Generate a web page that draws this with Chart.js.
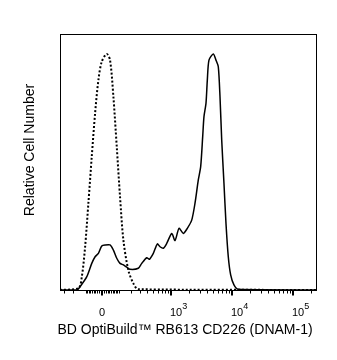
<!DOCTYPE html>
<html>
<head>
<meta charset="utf-8">
<script src="https://cdn.jsdelivr.net/npm/chart.js@4.4.1/dist/chart.umd.min.js"></script>
<style>
  body { margin: 0; background: #fff; }
  #wrap { width: 337px; height: 360px; }
</style>
</head>
<body>
<div id="wrap"><canvas id="histo"></canvas></div>
<script>
// x in display units (decades: 10^3 -> 3), y in % of max
const stainedX = [1.18, 1.46, 1.51, 1.62, 1.701, 1.756, 1.81, 1.865, 1.92, 2.001, 2.056, 2.111, 2.165, 2.22, 2.275, 2.329, 2.465, 2.521, 2.603, 2.646, 2.711, 2.777, 2.821, 2.875, 2.931, 3.013, 3.067, 3.133, 3.203, 3.269, 3.341, 3.395, 3.449, 3.488, 3.521, 3.542, 3.575, 3.597, 3.624, 3.695, 3.739, 3.777, 3.805, 3.833, 3.87, 3.903, 3.941, 3.98, 4.034, 4.105, 5.38];
const stainedY = [0, 0, 1.3, 5.2, 10.4, 13.0, 14.3, 17.2, 17.6, 17.6, 15.6, 12.4, 10.4, 9.8, 8.9, 8.1, 8.5, 10.4, 12.6, 12.0, 14.3, 18.0, 16.9, 16.3, 18.2, 22.1, 19.3, 24.1, 22.1, 24.1, 27.3, 33.9, 43.0, 48.2, 59.9, 67.7, 72.9, 82.0, 89.8, 92.2, 89.8, 87.2, 75.5, 58.6, 41.7, 26.1, 13.0, 5.9, 2.0, 0.3, 0];

const isotypeX = [1.18, 1.482, 1.538, 1.592, 1.646, 1.701, 1.756, 1.81, 1.865, 1.947, 2.001, 2.056, 2.111, 2.165, 2.22, 2.301, 2.383, 2.465, 5.38];
const isotypeY = [0, 0.7, 5.2, 16.9, 34.0, 52.1, 69.1, 82.0, 89.2, 92.2, 89.8, 75.5, 56.0, 36.4, 19.5, 7.8, 2.6, 0.3, 0];

// axis ticks in fluorescence units
const majorTicks = [0, 1000, 10000, 100000];
const majorLabels = ['0', '10', '10', '10'];
const majorExps = ['', '3', '4', '5'];
const minorTicks = [-300, -200, -100, -90, -80, -70, -60, -50, -40, -30, -20, -10,
  10, 20, 30, 40, 50, 60, 70, 80, 90, 100, 200, 300, 400, 500, 600, 700, 800, 900,
  2000, 3000, 4000, 5000, 6000, 7000, 8000, 9000,
  20000, 30000, 40000, 50000, 60000, 70000, 80000, 90000, 200000];

// biexponential-ish transform to display units
function disp(v) {
    return 1.874 + Math.asinh(v / 150.6) / Math.LN10;
}

function toPoints(xs, ys) {
    return xs.map((x, i) => ({ x: x, y: ys[i] }));
}

const FONT = '"Liberation Sans", Arial, sans-serif';

const axisDecor = {
    id: 'axisDecor',
    afterDraw(chart) {
        const ctx = chart.ctx;
        const a = chart.chartArea;
        const x = chart.scales.x;
        ctx.save();
        ctx.strokeStyle = '#000';
        ctx.lineWidth = 1;
        ctx.strokeRect(a.left + 0.5, a.top + 0.5, a.right - a.left, a.bottom - a.top);

        // minor ticks
        minorTicks.forEach(v => {
            const px = Math.round(x.getPixelForValue(disp(v))) + 0.5;
            ctx.beginPath();
            ctx.moveTo(px, a.bottom);
            ctx.lineTo(px, a.bottom + 3.5);
            ctx.stroke();
        });

        // major ticks + labels
        ctx.lineWidth = 2;
        ctx.fillStyle = '#000';
        majorTicks.forEach((v, i) => {
            const px = Math.round(x.getPixelForValue(disp(v)));
            ctx.beginPath();
            ctx.moveTo(px, a.bottom);
            ctx.lineTo(px, a.bottom + 5.5);
            ctx.stroke();

            ctx.textBaseline = 'alphabetic';
            ctx.font = '11px ' + FONT;
            if (majorExps[i] === '') {
                ctx.textAlign = 'center';
                ctx.fillText(majorLabels[i], px, 316);
            } else {
                ctx.textAlign = 'left';
                ctx.fillText(majorLabels[i], px - 1, 316);
                const w = ctx.measureText(majorLabels[i]).width;
                ctx.font = '9px ' + FONT;
                ctx.fillText(majorExps[i], px - 1 + w, 309);
            }
        });

        // axis titles
        ctx.font = '14px ' + FONT;
        ctx.textAlign = 'center';
        ctx.textBaseline = 'middle';
        ctx.fillText('BD OptiBuild\u2122 RB613 CD226 (DNAM-1)', (a.left + a.right) / 2 - 3, 330);

        ctx.translate(30, 150);
        ctx.rotate(-Math.PI / 2);
        ctx.fillText('Relative Cell Number', 0, 0);
        ctx.restore();
    }
};

new Chart(document.getElementById('histo'), {
    type: 'line',
    data: {
        datasets: [
            {
                label: 'Isotype',
                data: toPoints(isotypeX, isotypeY),
                borderColor: '#000',
                borderWidth: 2,
                borderDash: [2, 2],
                pointRadius: 0,
                tension: 0.3,
                fill: false
            },
            {
                label: 'CD226',
                data: toPoints(stainedX, stainedY),
                borderColor: '#000',
                borderWidth: 1.5,
                pointRadius: 0,
                tension: 0.25,
                fill: false
            }
        ]
    },
    options: {
        responsive: true,
        maintainAspectRatio: false,
        animation: false,
        layout: { padding: { left: 60, top: 34, right: 21, bottom: 70 } },
        plugins: {
            legend: { display: false },
            tooltip: { enabled: false }
        },
        scales: {
            x: { type: 'linear', min: 1.18, max: 5.38, display: false },
            y: { type: 'linear', min: 0, max: 100, display: false }
        }
    },
    plugins: [axisDecor]
});
</script>
</body>
</html>
